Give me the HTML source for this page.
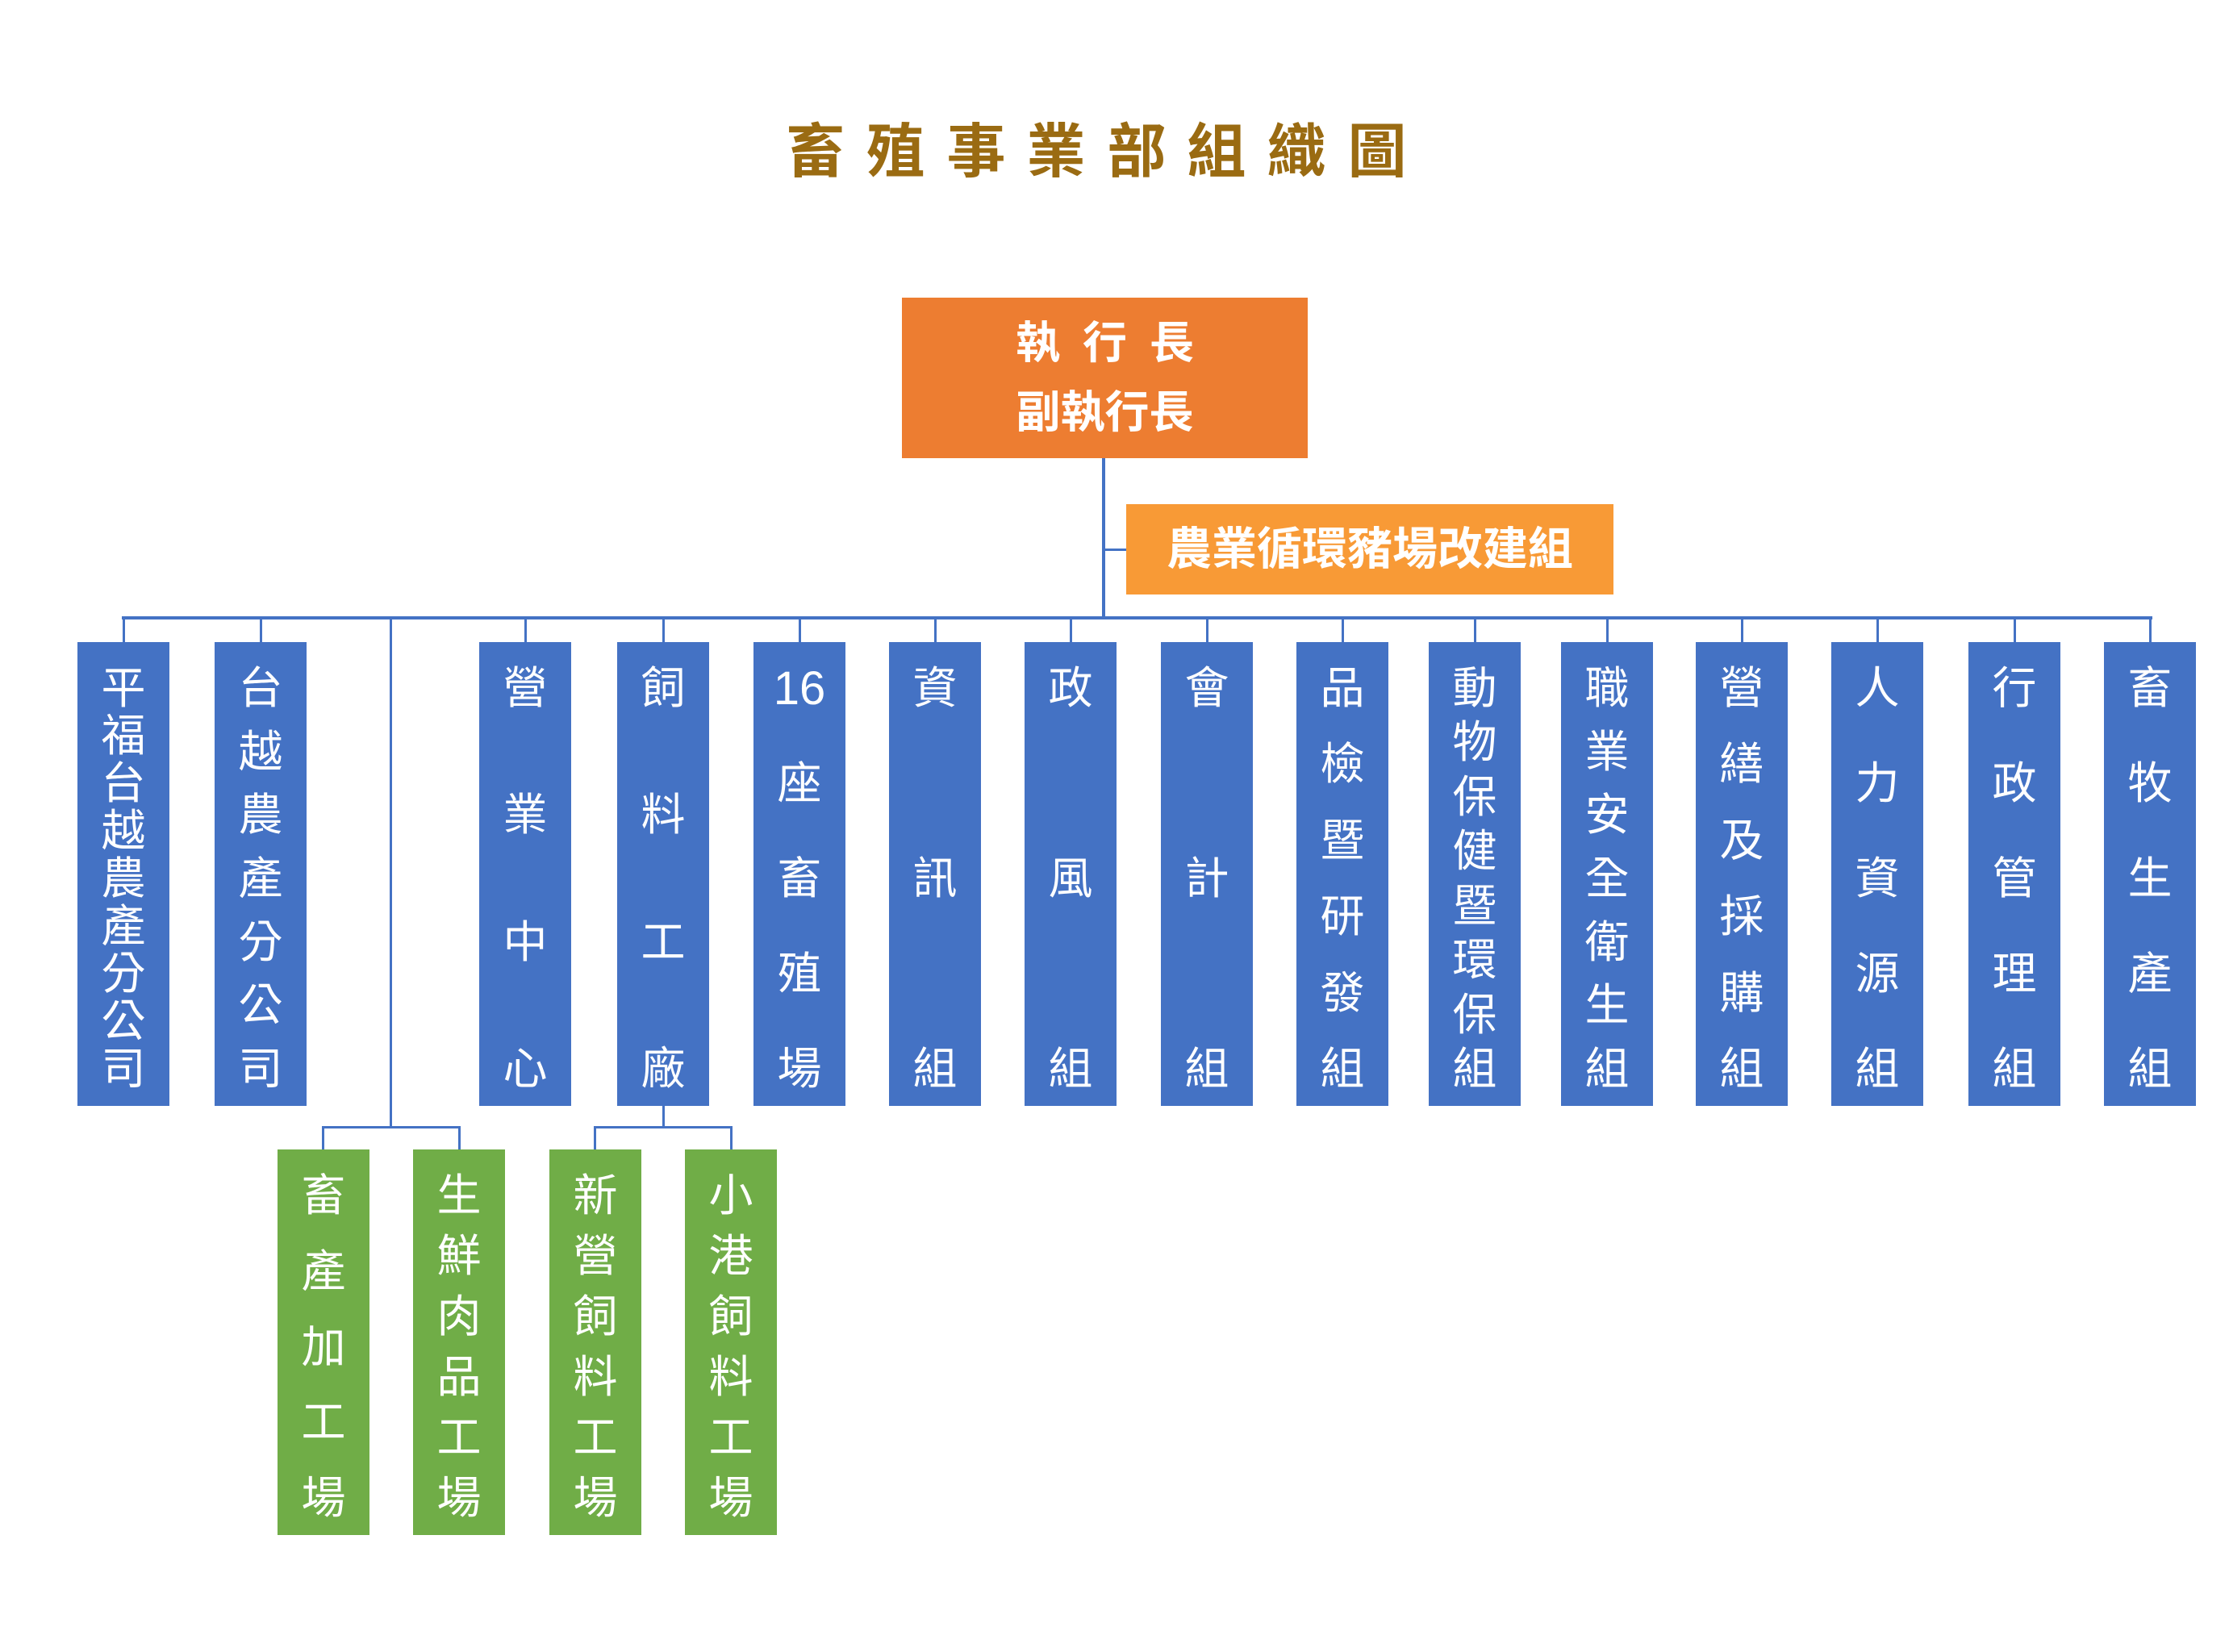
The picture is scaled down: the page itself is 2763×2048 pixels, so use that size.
<!DOCTYPE html>
<html>
<head>
<meta charset="utf-8">
<style>
html,body{margin:0;padding:0;}
body{width:2763px;height:2048px;background:#ffffff;position:relative;overflow:hidden;
font-family:"Liberation Sans","Noto Sans CJK TC","Noto Sans CJK SC",sans-serif;}
.abs{position:absolute;}
.ln{position:absolute;background:#4472C4;}
.t{position:absolute;top:149px;width:80px;height:80px;line-height:80px;text-align:center;
font-size:73px;font-weight:bold;color:#9a6b12;}
.box{position:absolute;width:114px;box-sizing:border-box;padding:30px 0 18px 0;
display:flex;flex-direction:column;justify-content:space-between;align-items:center;color:#fff;}
.box div{font-size:55px;line-height:55px;height:55px;}
.blue{background:#4472C4;top:796px;height:575px;}
.green{background:#70AD47;top:1425px;height:478px;}
.num{font-family:"Liberation Sans",sans-serif !important;font-size:58px !important;}
</style>
</head>
<body>

<!-- Title -->
<div class="t" style="left:971px;">畜</div>
<div class="t" style="left:1070px;">殖</div>
<div class="t" style="left:1170px;">事</div>
<div class="t" style="left:1269px;">業</div>
<div class="t" style="left:1369px;">部</div>
<div class="t" style="left:1468px;">組</div>
<div class="t" style="left:1567px;">織</div>
<div class="t" style="left:1667px;">圖</div>

<!-- CEO box -->
<div class="abs" style="left:1118px;top:369px;width:503px;height:199px;background:#ED7D31;color:#fff;font-weight:bold;text-align:center;">
  <div style="position:absolute;left:0;width:503px;top:28px;height:56px;line-height:56px;font-size:55px;">
    <span style="letter-spacing:28px;margin-right:-28px;">執行長</span>
  </div>
  <div style="position:absolute;left:0;width:503px;top:114px;height:56px;line-height:56px;font-size:55px;">副執行長</div>
</div>

<!-- trunk from CEO -->
<div class="ln" style="left:1366px;top:568px;width:4px;height:200px;"></div>
<!-- branch to staff box -->
<div class="ln" style="left:1368px;top:680px;width:28px;height:3px;"></div>

<!-- staff box -->
<div class="abs" style="left:1396px;top:625px;width:604px;height:112px;background:#F89A36;color:#fff;font-weight:bold;font-size:56px;line-height:112px;text-align:center;">農業循環豬場改建組</div>

<!-- bus -->
<div class="ln" style="left:151px;top:764px;width:2517px;height:4px;"></div>

<!-- stubs to blue boxes -->
<div class="ln" style="left:152px;top:766px;width:3px;height:30px;"></div>
<div class="ln" style="left:322px;top:766px;width:3px;height:30px;"></div>
<div class="ln" style="left:650px;top:766px;width:3px;height:30px;"></div>
<div class="ln" style="left:821px;top:766px;width:3px;height:30px;"></div>
<div class="ln" style="left:990px;top:766px;width:3px;height:30px;"></div>
<div class="ln" style="left:1158px;top:766px;width:3px;height:30px;"></div>
<div class="ln" style="left:1326px;top:766px;width:3px;height:30px;"></div>
<div class="ln" style="left:1495px;top:766px;width:3px;height:30px;"></div>
<div class="ln" style="left:1663px;top:766px;width:3px;height:30px;"></div>
<div class="ln" style="left:1827px;top:766px;width:3px;height:30px;"></div>
<div class="ln" style="left:1991px;top:766px;width:3px;height:30px;"></div>
<div class="ln" style="left:2158px;top:766px;width:3px;height:30px;"></div>
<div class="ln" style="left:2326px;top:766px;width:3px;height:30px;"></div>
<div class="ln" style="left:2496px;top:766px;width:3px;height:30px;"></div>
<div class="ln" style="left:2664px;top:766px;width:3px;height:30px;"></div>

<!-- trunk to left green group -->
<div class="ln" style="left:483px;top:766px;width:3px;height:633px;"></div>
<div class="ln" style="left:399px;top:1396px;width:172px;height:3px;"></div>
<div class="ln" style="left:399px;top:1396px;width:3px;height:29px;"></div>
<div class="ln" style="left:568px;top:1396px;width:3px;height:29px;"></div>

<!-- trunk from feed factory -->
<div class="ln" style="left:821px;top:1371px;width:3px;height:28px;"></div>
<div class="ln" style="left:736px;top:1396px;width:172px;height:3px;"></div>
<div class="ln" style="left:736px;top:1396px;width:3px;height:29px;"></div>
<div class="ln" style="left:905px;top:1396px;width:3px;height:29px;"></div>

<!-- blue boxes -->
<div class="box blue" style="left:96px;"><div>平</div><div>福</div><div>台</div><div>越</div><div>農</div><div>產</div><div>分</div><div>公</div><div>司</div></div>
<div class="box blue" style="left:266px;"><div>台</div><div>越</div><div>農</div><div>產</div><div>分</div><div>公</div><div>司</div></div>
<div class="box blue" style="left:594px;"><div>營</div><div>業</div><div>中</div><div>心</div></div>
<div class="box blue" style="left:765px;"><div>飼</div><div>料</div><div>工</div><div>廠</div></div>
<div class="box blue" style="left:934px;"><div class="num">16</div><div>座</div><div>畜</div><div>殖</div><div>場</div></div>
<div class="box blue" style="left:1102px;"><div>資</div><div>訊</div><div>組</div></div>
<div class="box blue" style="left:1270px;"><div>政</div><div>風</div><div>組</div></div>
<div class="box blue" style="left:1439px;"><div>會</div><div>計</div><div>組</div></div>
<div class="box blue" style="left:1607px;"><div>品</div><div>檢</div><div>暨</div><div>研</div><div>發</div><div>組</div></div>
<div class="box blue" style="left:1771px;"><div>動</div><div>物</div><div>保</div><div>健</div><div>暨</div><div>環</div><div>保</div><div>組</div></div>
<div class="box blue" style="left:1935px;"><div>職</div><div>業</div><div>安</div><div>全</div><div>衛</div><div>生</div><div>組</div></div>
<div class="box blue" style="left:2102px;"><div>營</div><div>繕</div><div>及</div><div>採</div><div>購</div><div>組</div></div>
<div class="box blue" style="left:2270px;"><div>人</div><div>力</div><div>資</div><div>源</div><div>組</div></div>
<div class="box blue" style="left:2440px;"><div>行</div><div>政</div><div>管</div><div>理</div><div>組</div></div>
<div class="box blue" style="left:2608px;"><div>畜</div><div>牧</div><div>生</div><div>產</div><div>組</div></div>

<!-- green boxes -->
<div class="box green" style="left:344px;"><div>畜</div><div>產</div><div>加</div><div>工</div><div>場</div></div>
<div class="box green" style="left:512px;"><div>生</div><div>鮮</div><div>肉</div><div>品</div><div>工</div><div>場</div></div>
<div class="box green" style="left:681px;"><div>新</div><div>營</div><div>飼</div><div>料</div><div>工</div><div>場</div></div>
<div class="box green" style="left:849px;"><div>小</div><div>港</div><div>飼</div><div>料</div><div>工</div><div>場</div></div>

</body>
</html>
